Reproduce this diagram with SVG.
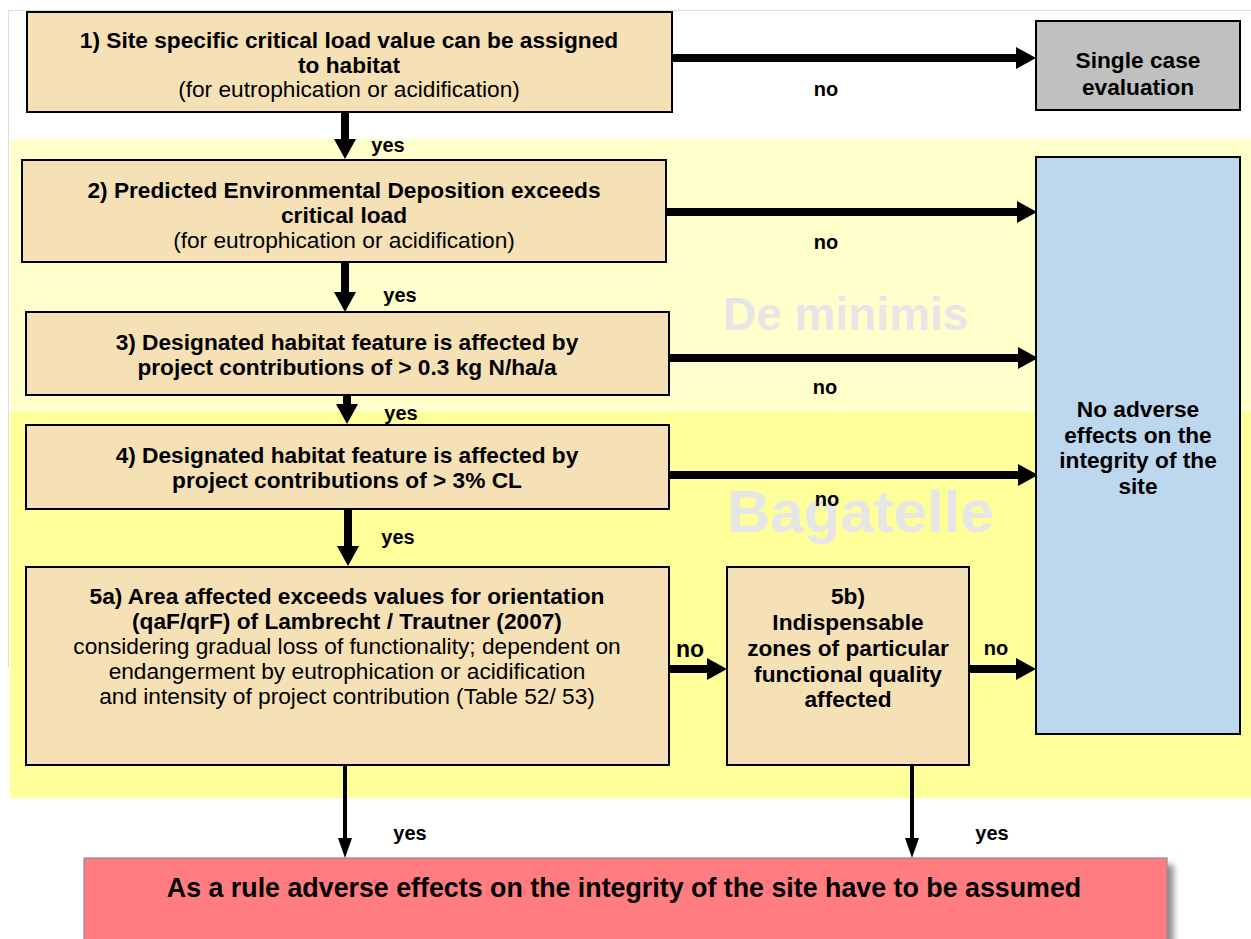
<svg xmlns="http://www.w3.org/2000/svg" width="1251" height="939" viewBox="0 0 1251 939">
<style>
.box{fill:#F6E0B5;stroke:#000;stroke-width:2}
.t{font-family:"Liberation Sans",Arial,sans-serif;font-size:22.7px;font-weight:bold;fill:#000;text-anchor:middle}
.r{font-weight:normal}
.big{font-size:26.8px}
.lbl{font-family:"Liberation Sans",Arial,sans-serif;font-size:20px;font-weight:bold;fill:#000;text-anchor:middle}
.lbl2{font-size:23px}
.wm{font-family:"Liberation Sans",Arial,sans-serif;font-weight:bold;fill:#E6E6E6}
.c{stroke:#000;stroke-width:8;fill:none}
.cs{stroke:#000;stroke-width:4;fill:none}
</style>
<defs>
<marker id="ah" markerUnits="userSpaceOnUse" markerWidth="20" markerHeight="22" refX="0" refY="11" orient="auto" viewBox="0 0 20 22">
<path d="M0,0 L20,11 L0,22 Z" fill="#000"/>
</marker>
<marker id="ahs" markerUnits="userSpaceOnUse" markerWidth="20" markerHeight="14" refX="0" refY="7" orient="auto" viewBox="0 0 20 14">
<path d="M0,0 L20,7 L0,14 Z" fill="#000"/>
</marker>
<filter id="sh" x="-5%" y="-20%" width="115%" height="150%">
<feDropShadow dx="6" dy="7" stdDeviation="3" flood-color="#000" flood-opacity="0.45"/>
</filter>
</defs>
<rect width="1251" height="939" fill="#fff"/>
<g id="frame">
<line x1="8" y1="10.5" x2="1251" y2="10.5" stroke="#DDDDDD" stroke-width="1"/>
<line x1="8.5" y1="10" x2="8.5" y2="668" stroke="#DDDDDD" stroke-width="1"/>
</g>
<g id="bands">
<rect x="10" y="139" width="1241" height="273" fill="#FFFFCC"/>
<rect x="10" y="412" width="1241" height="386" fill="#FFFF99"/>
<text class="wm" x="723" y="330" font-size="46">De minimis</text>
<text class="wm" x="727" y="532" font-size="60">Bagatelle</text>
</g>
<g id="connectors">
<line class="c" x1="672" y1="58" x2="1016" y2="58" marker-end="url(#ah)"/>
<line class="c" x1="667" y1="212" x2="1017" y2="212" marker-end="url(#ah)"/>
<line class="c" x1="670" y1="358" x2="1018" y2="358" marker-end="url(#ah)"/>
<line class="c" x1="670" y1="475" x2="1018" y2="475" marker-end="url(#ah)"/>
<line class="c" x1="670" y1="669" x2="707" y2="669" marker-end="url(#ah)"/>
<line class="c" x1="970" y1="669" x2="1016" y2="669" marker-end="url(#ah)"/>
<line class="c" x1="345" y1="113" x2="345" y2="139" marker-end="url(#ah)"/>
<line class="c" x1="345" y1="263" x2="345" y2="292" marker-end="url(#ah)"/>
<line class="c" x1="347" y1="396" x2="347" y2="404" marker-end="url(#ah)"/>
<line class="c" x1="348" y1="510" x2="348" y2="546" marker-end="url(#ah)"/>
<line class="cs" x1="345" y1="766" x2="345" y2="838" marker-end="url(#ahs)"/>
<line class="cs" x1="912" y1="766" x2="912" y2="838" marker-end="url(#ahs)"/>
<text class="lbl" x="826" y="96">no</text>
<text class="lbl" x="826" y="249">no</text>
<text class="lbl" x="825" y="394">no</text>
<text class="lbl" x="827" y="506">no</text>
<text class="lbl lbl2" x="690" y="657">no</text>
<text class="lbl" x="996" y="655">no</text>
<text class="lbl" x="388" y="152">yes</text>
<text class="lbl" x="400" y="302">yes</text>
<text class="lbl" x="401" y="420">yes</text>
<text class="lbl" x="398" y="544">yes</text>
<text class="lbl" x="410" y="840">yes</text>
<text class="lbl" x="992" y="840">yes</text>
</g>
<g id="n1">
<rect class="box" x="27" y="12" width="645" height="100"/>
<text class="t" x="349" y="48">1) Site specific critical load value can be assigned</text>
<text class="t" x="349" y="73">to habitat</text>
<text class="t r" x="349" y="97">(for eutrophication or acidification)</text>
</g>
<g id="single">
<rect x="1036" y="21" width="204" height="89" fill="#C0C0C0" stroke="#000" stroke-width="2"/>
<text class="t" x="1138" y="68">Single case</text>
<text class="t" x="1138" y="95">evaluation</text>
</g>
<g id="n2">
<rect class="box" x="22" y="160" width="644" height="102"/>
<text class="t" x="344" y="198">2) Predicted Environmental Deposition exceeds</text>
<text class="t" x="344" y="223">critical load</text>
<text class="t r" x="344" y="248">(for eutrophication or acidification)</text>
</g>
<g id="n3">
<rect class="box" x="26" y="312" width="643" height="83"/>
<text class="t" x="347" y="350">3) Designated habitat feature is affected by</text>
<text class="t" x="347" y="375">project contributions of &gt; 0.3 kg N/ha/a</text>
</g>
<g id="n4">
<rect class="box" x="26" y="425" width="643" height="84"/>
<text class="t" x="347" y="463">4) Designated habitat feature is affected by</text>
<text class="t" x="347" y="488">project contributions of &gt; 3% CL</text>
</g>
<g id="n5a">
<rect class="box" x="26" y="567" width="643" height="198"/>
<text class="t" x="347" y="604">5a) Area affected exceeds values for orientation</text>
<text class="t" x="347" y="629">(qaF/qrF) of Lambrecht / Trautner (2007)</text>
<text class="t r" x="347" y="654">considering gradual loss of functionality; dependent on</text>
<text class="t r" x="347" y="679">endangerment by eutrophication or acidification</text>
<text class="t r" x="347" y="704">and intensity of project contribution (Table 52/ 53)</text>
</g>
<g id="n5b">
<rect class="box" x="727" y="567" width="242" height="198"/>
<text class="t" x="848" y="604">5b)</text>
<text class="t" x="848" y="630">Indispensable</text>
<text class="t" x="848" y="656">zones of particular</text>
<text class="t" x="848" y="682">functional quality</text>
<text class="t" x="848" y="707">affected</text>
</g>
<g id="noadverse">
<rect x="1036" y="157" width="204" height="577" fill="#BDD7EE" stroke="#000" stroke-width="2"/>
<text class="t" x="1138" y="417">No adverse</text>
<text class="t" x="1138" y="443">effects on the</text>
<text class="t" x="1138" y="468">integrity of the</text>
<text class="t" x="1138" y="494">site</text>
</g>
<g id="result">
<rect x="84" y="858" width="1083" height="100" fill="#FF7C80" stroke="#808080" stroke-width="1" filter="url(#sh)"/>
<text class="t big" x="624" y="897">As a rule adverse effects on the integrity of the site have to be assumed</text>
</g>
</svg>
